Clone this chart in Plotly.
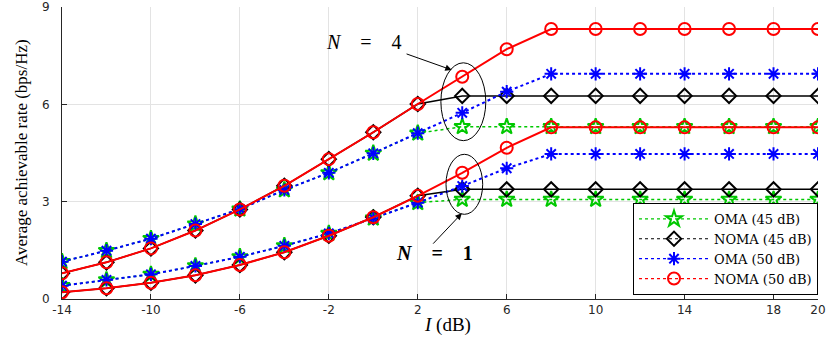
import plotly.graph_objects as go

I_dB = [-14, -12, -10, -8, -6, -4, -2, 0, 2, 4, 6, 8, 10, 12, 14, 16, 18, 20]

# N = 4
n4_oma45 = [1.15, 1.49, 1.86, 2.31, 2.77, 3.36, 3.89, 4.49, 5.11, 5.31, 5.31, 5.31, 5.31, 5.31, 5.31, 5.31, 5.31, 5.31]
n4_noma45 = [0.79, 1.13, 1.56, 2.11, 2.76, 3.49, 4.31, 5.14, 6.01, 6.26, 6.26, 6.26, 6.26, 6.26, 6.26, 6.26, 6.26, 6.26]
n4_oma50 = [1.15, 1.49, 1.86, 2.31, 2.77, 3.36, 3.89, 4.49, 5.11, 5.74, 6.39, 6.94, 6.94, 6.94, 6.94, 6.94, 6.94, 6.94]
n4_noma50 = [0.79, 1.13, 1.56, 2.11, 2.76, 3.49, 4.31, 5.14, 6.01, 6.85, 7.70, 8.32, 8.32, 8.32, 8.32, 8.32, 8.32, 8.32]

# N = 1
n1_oma45 = [0.41, 0.59, 0.76, 1.02, 1.30, 1.64, 2.02, 2.49, 2.97, 3.07, 3.07, 3.07, 3.07, 3.07, 3.07, 3.07, 3.07, 3.07]
n1_noma45 = [0.21, 0.33, 0.50, 0.73, 1.05, 1.44, 1.95, 2.52, 3.18, 3.38, 3.38, 3.38, 3.38, 3.38, 3.38, 3.38, 3.38, 3.38]
n1_oma50 = [0.41, 0.59, 0.76, 1.02, 1.30, 1.64, 2.02, 2.49, 2.97, 3.48, 4.03, 4.47, 4.47, 4.47, 4.47, 4.47, 4.47, 4.47]
n1_noma50 = [0.21, 0.33, 0.50, 0.73, 1.05, 1.44, 1.95, 2.52, 3.18, 3.89, 4.66, 5.29, 5.29, 5.29, 5.29, 5.29, 5.29, 5.29]

x_ticks = [-14, -10, -6, -2, 2, 6, 10, 14, 18, 20]
y_ticks = [0, 3, 6, 9]

legend_names = ["OMA (45 dB)", "NOMA (45 dB)", "OMA (50 dB)", "NOMA (50 dB)"]

GREEN = "#00c800"
BLACK = "#000000"
BLUE = "#0000ff"
RED = "#ff0000"

styles = [
    dict(color=GREEN, symbol="star-open", msize=12, dash="dot", width=1.5),
    dict(color=BLACK, symbol="diamond-open", msize=11, dash="solid", width=1.5),
    dict(color=BLUE, symbol="asterisk-open", msize=11, dash="dot", width=2),
    dict(color=RED, symbol="circle-open", msize=12, dash="solid", width=2),
]

fig = go.Figure()

# legend-only entries (dotted in the legend)
for name, st in zip(legend_names, styles):
    fig.add_trace(go.Scatter(
        x=[None], y=[None], mode="lines+markers", name=name,
        line=dict(color=st["color"], width=1.2, dash="dot"),
        marker=dict(symbol=st["symbol"], size=st["msize"], color=st["color"],
                    line=dict(color=st["color"], width=2)),
    ))

series = [
    (n4_oma45, n1_oma45),
    (n4_noma45, n1_noma45),
    (n4_oma50, n1_oma50),
    (n4_noma50, n1_noma50),
]
for (s4, s1), st in zip(series, styles):
    for ys in (s4, s1):
        fig.add_trace(go.Scatter(
            x=I_dB, y=ys, mode="lines+markers", showlegend=False,
            line=dict(color=st["color"], width=st["width"], dash=st["dash"]),
            marker=dict(symbol=st["symbol"], size=st["msize"], color=st["color"],
                        line=dict(color=st["color"], width=2)),
        ))

# ellipses
fig.add_shape(type="circle", xref="x", yref="y", x0=3.04, x1=5.06, y0=4.88, y1=7.28,
              line=dict(color="black", width=1))
fig.add_shape(type="circle", xref="x", yref="y", x0=3.27, x1=4.92, y0=2.61, y1=4.46,
              line=dict(color="black", width=1))

serif = "Liberation Serif, DejaVu Serif, serif"

# arrows
fig.add_annotation(x=3.53, y=7.06, ax=1.43, ay=7.57, axref="x", ayref="y", xref="x", yref="y",
                   text="", showarrow=True, arrowhead=2, arrowsize=1.3, arrowwidth=1, arrowcolor="black")
fig.add_annotation(x=3.98, y=2.64, ax=2.63, ay=1.66, axref="x", ayref="y", xref="x", yref="y",
                   text="", showarrow=True, arrowhead=2, arrowsize=1.3, arrowwidth=1, arrowcolor="black")
fig.add_annotation(x=-0.42, y=7.91, xref="x", yref="y", showarrow=False,
                   text="<i>N</i>\u2003=\u20034", font=dict(family=serif, size=20, color="black"))
fig.add_annotation(x=2.73, y=1.42, xref="x", yref="y", showarrow=False,
                   text="<b><i>N</i>\u2003=\u20031</b>", font=dict(family=serif, size=20, color="black"))

# axis titles
fig.add_annotation(x=0, y=0.5, xref="paper", yref="paper", xanchor="center", yanchor="middle",
                   xshift=-41, showarrow=False,
                   textangle=-90, text="Average achievable rate (bps/Hz)",
                   font=dict(family=serif, size=17, color="black"))
fig.add_annotation(x=0.51, y=0, xref="paper", yref="paper", xanchor="center", yanchor="middle",
                   yshift=-26, showarrow=False,
                   text="<i>I</i> (dB)", font=dict(family=serif, size=19, color="black"))

tickfont = dict(family="DejaVu Sans, Liberation Sans, sans-serif", size=12, color="#262626")

fig.update_layout(
    width=830, height=338,
    margin=dict(l=62, r=12, t=7, b=39),
    plot_bgcolor="white", paper_bgcolor="white",
    legend=dict(x=1, y=0.014, xanchor="right", yanchor="bottom",
                bgcolor="white", bordercolor="black", borderwidth=1,
                font=dict(family="DejaVu Serif, serif", size=13, color="black"),
                itemwidth=70, tracegroupgap=0),
    xaxis=dict(range=[-14, 20], tickvals=x_ticks, ticktext=[str(v) for v in x_ticks],
               showgrid=True, gridcolor="#e3e3e3", gridwidth=1, zeroline=False, automargin=False,
               showline=True, linecolor="#262626", linewidth=1, ticks="inside", ticklen=5,
               tickcolor="#262626", tickfont=tickfont),
    yaxis=dict(range=[0, 9], tickvals=y_ticks, ticktext=[str(v) for v in y_ticks],
               showgrid=True, gridcolor="#e3e3e3", gridwidth=1, zeroline=False, automargin=False,
               showline=True, linecolor="#262626", linewidth=1, ticks="inside", ticklen=5,
               tickcolor="#262626", tickfont=tickfont, ticklabelstandoff=9),
)

fig.write_html("out.html", config={"displayModeBar": False},
               post_script="document.body.style.margin='0';document.body.style.overflow='hidden';")
